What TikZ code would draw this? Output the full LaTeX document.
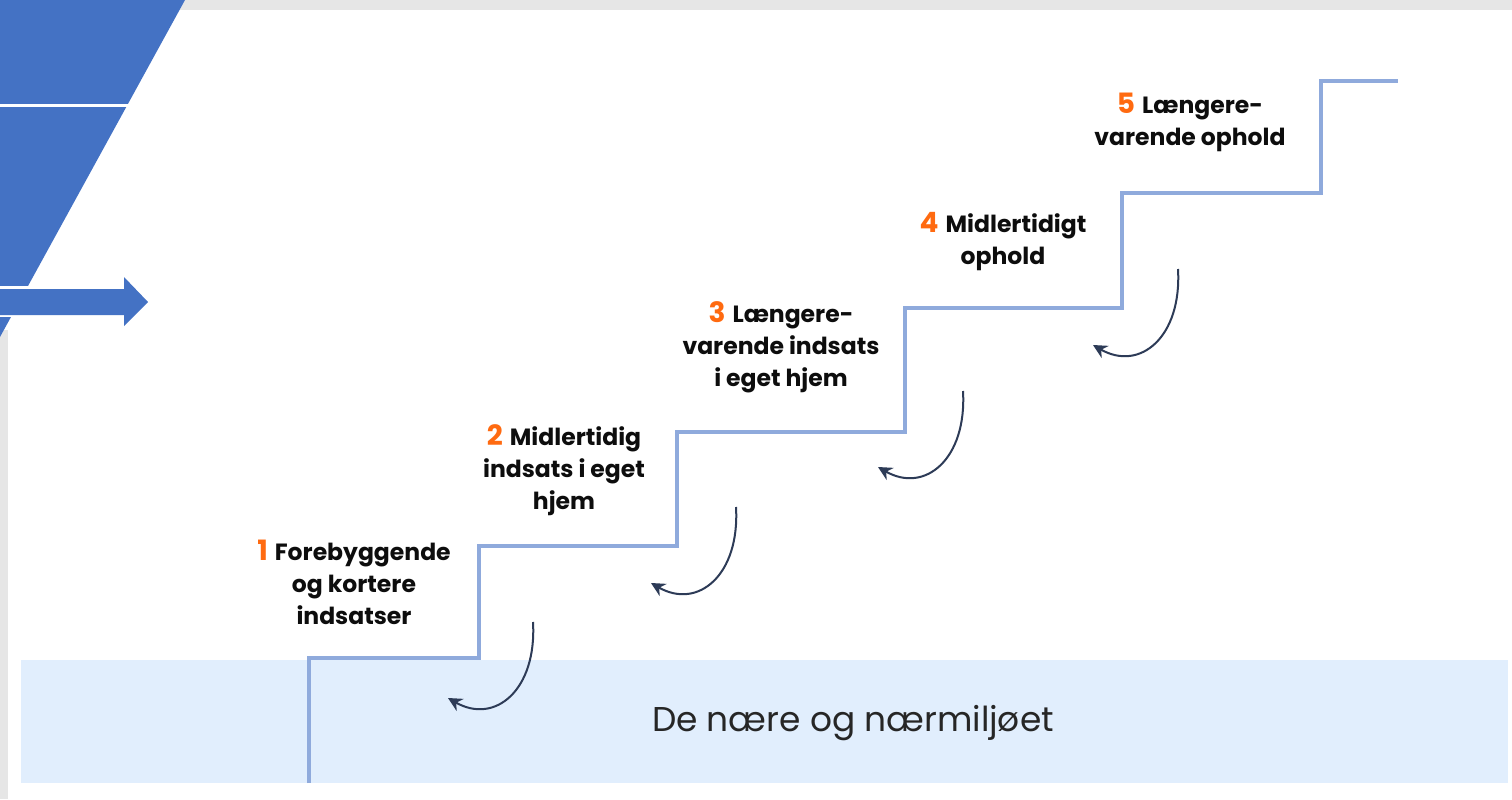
\documentclass[tikz,border=0pt]{standalone}
\usepackage{fontspec}
\setmainfont{Poppins}
\usepackage{xcolor}
\usepackage{tikz}
\usetikzlibrary{arrows.meta}
\definecolor{framegray}{HTML}{E6E6E6}
\definecolor{barblue}{HTML}{4472C4}
\definecolor{bandblue}{HTML}{E1EEFD}
\definecolor{stairblue}{HTML}{8FAADC}
\definecolor{turnnavy}{HTML}{2D3B57}
\definecolor{numorange}{HTML}{FF6A10}
\newcommand{\stepnum}[1]{{\fontsize{14}{15}\selectfont\color{numorange}#1}\hspace{0.3em}}
\tikzstyle{stair} = [line width=2pt, draw=stairblue]
\tikzstyle{turn} = [line width=1pt, draw=turnnavy, -{Stealth[length=7pt,width=7pt]}]
\tikzstyle{steptext} = [align=center, inner sep=0pt, text=black!95, font=\fontsize{11.75}{16}\selectfont\bfseries]

\begin{document}
\begin{tikzpicture}[x=0.5pt, y=-0.5pt]
    \useasboundingbox (0,0) rectangle (1512,799);
    % frame
    \fill[framegray] (0,0) rectangle (1512,799);
    \fill[white] (185,10) rectangle (1512,799);
    \fill[white] (8,10) rectangle (185,799);
    \fill[white] (0,0) rectangle (8,330);
    % blue corner
    \fill[barblue] (0,0) -- (185,0) -- (0,337) -- cycle;
    \draw[white, line width=1.2pt] (0,105.5) -- (200,105.5);
    \fill[white] (0,286) rectangle (40,317);
    \fill[barblue] (0,289) -- (124,289) -- (124,277) -- (148,302) -- (124,326) -- (124,315) -- (0,315) -- cycle;
    % ground band
    \fill[bandblue] (21,660) rectangle (1508,783);
    \node[font=\fontsize{17.2}{20}\selectfont, text=black!85] (base) at (853,723) {De nære og nærmiljøet};
    % stairs
    \draw[stair] (309,783) |- (479,658) |- (677,546) |- (905,432) |- (1122,308) |- (1321,193) |- (1398,81);
    % step labels
    \node[steptext] (step1) at (354,582) {\stepnum{1}Forebyggende\\og kortere\\indsatser};
    \node[steptext] (step2) at (564,470) {\stepnum{2}Midlertidig\\indsats i eget\\hjem};
    \node[steptext] (step3) at (781,347) {\stepnum{3}Længere-\\varende indsats\\i eget hjem};
    \node[steptext] (step4) at (1003,242) {\stepnum{4}Midlertidigt\\ophold};
    \node[steptext] (step5) at (1190,122) {\stepnum{5}Længere-\\varende ophold};
    % turn arrows
    \coordinate (s1) at (533,622);
    \coordinate (e1) at (448,698);
    \coordinate (s2) at (736,507);
    \coordinate (e2) at (651,583);
    \coordinate (s3) at (963,391);
    \coordinate (e3) at (878,467);
    \coordinate (s4) at (1178,269);
    \coordinate (e4) at (1093,345);
    \draw[turn] (s1) .. controls +(4,68) and +(47,27) .. (e1);
    \draw[turn] (s2) .. controls +(4,68) and +(47,27) .. (e2);
    \draw[turn] (s3) .. controls +(4,68) and +(47,27) .. (e3);
    \draw[turn] (s4) .. controls +(4,68) and +(47,27) .. (e4);
\end{tikzpicture}
\end{document}
